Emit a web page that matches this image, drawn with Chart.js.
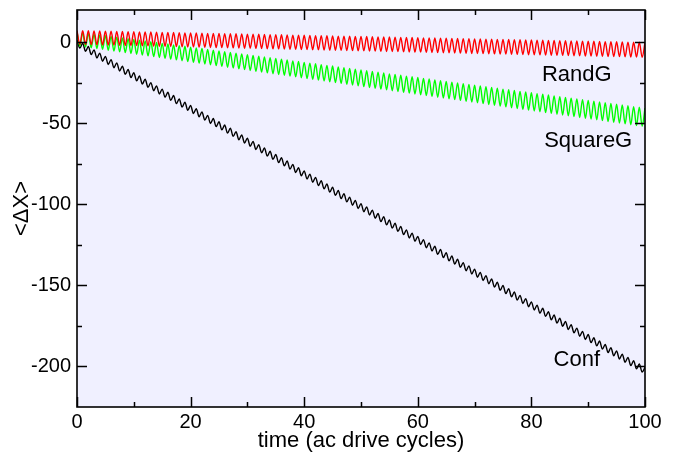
<!DOCTYPE html>
<html>
<head>
<meta charset="utf-8">
<script src="https://cdn.jsdelivr.net/npm/chart.js@4/dist/chart.umd.min.js"></script>
<style>
html,body{margin:0;padding:0;background:#fff;}
#wrap{width:675px;height:454px;}
</style>
</head>
<body>
<div id="wrap"><canvas id="c" width="675" height="454"></canvas></div>
<script>
// ---- Data (peaks at whole cycles, troughs at half cycles) ----
const seriesNames = ["RandG", "SquareG", "Conf"];
const xTickValues = [0, 20, 40, 60, 80, 100];
const xMinorTicks = [10, 30, 50, 70, 90];
const yTickValues = [0, -50, -100, -150, -200];
const yMinorTicks = [-25, -75, -125, -175];

const randPeaks = [7.3,7.2,7.2,7.1,7.0,6.9,6.9,6.8,6.7,6.6,6.6,6.5,6.4,6.4,6.3,6.2,6.1,6.1,6.0,5.9,5.8,5.8,5.7,5.6,5.5,5.5,5.4,5.3,5.3,5.2,5.1,5.0,5.0,4.9,4.8,4.7,4.7,4.6,4.5,4.5,4.4,4.3,4.2,4.2,4.1,4.0,3.9,3.9,3.8,3.7,3.7,3.6,3.5,3.4,3.4,3.3,3.2,3.1,3.1,3.0,2.9,2.8,2.8,2.7,2.6,2.6,2.5,2.4,2.3,2.3,2.2,2.1,2.0,2.0,1.9,1.8,1.8,1.7,1.6,1.5,1.5,1.4,1.3,1.2,1.2,1.1,1.0,0.9,0.9,0.8,0.7,0.7,0.6,0.5,0.4,0.4,0.3,0.2,0.1,0.1,0.0];
const randTroughs = [-1.2,-1.3,-1.4,-1.5,-1.6,-1.6,-1.7,-1.8,-1.9,-2.0,-2.0,-2.1,-2.2,-2.3,-2.4,-2.4,-2.5,-2.6,-2.7,-2.8,-2.8,-2.9,-3.0,-3.1,-3.2,-3.2,-3.3,-3.4,-3.5,-3.6,-3.6,-3.7,-3.8,-3.9,-4.0,-4.0,-4.1,-4.2,-4.3,-4.4,-4.4,-4.5,-4.6,-4.7,-4.8,-4.8,-4.9,-5.0,-5.1,-5.2,-5.2,-5.3,-5.4,-5.5,-5.6,-5.6,-5.7,-5.8,-5.9,-6.0,-6.0,-6.1,-6.2,-6.3,-6.4,-6.4,-6.5,-6.6,-6.7,-6.8,-6.8,-6.9,-7.0,-7.1,-7.2,-7.2,-7.3,-7.4,-7.5,-7.6,-7.6,-7.7,-7.8,-7.9,-8.0,-8.0,-8.1,-8.2,-8.3,-8.4,-8.4,-8.5,-8.6,-8.7,-8.8,-8.8,-8.9,-9.0,-9.1,-9.2];

const squarePeaks = [6.5,6.0,5.6,5.1,4.6,4.2,3.7,3.2,2.7,2.3,1.8,1.3,0.9,0.4,-0.1,-0.6,-1.0,-1.5,-2.0,-2.4,-2.9,-3.4,-3.8,-4.3,-4.8,-5.3,-5.7,-6.2,-6.7,-7.1,-7.6,-8.1,-8.5,-9.0,-9.5,-9.9,-10.4,-10.9,-11.4,-11.8,-12.3,-12.8,-13.2,-13.7,-14.2,-14.6,-15.1,-15.6,-16.1,-16.5,-17.0,-17.5,-17.9,-18.4,-18.9,-19.4,-19.8,-20.3,-20.8,-21.2,-21.7,-22.2,-22.6,-23.1,-23.6,-24.1,-24.5,-25.0,-25.5,-25.9,-26.4,-26.9,-27.3,-27.8,-28.3,-28.8,-29.2,-29.7,-30.2,-30.6,-31.1,-31.6,-32.0,-32.5,-33.0,-33.5,-33.9,-34.4,-34.9,-35.3,-35.8,-36.3,-36.7,-37.2,-37.7,-38.2,-38.6,-39.1,-39.6,-40.0,-40.5];
const squareTroughs = [-2.3,-2.8,-3.3,-3.8,-4.3,-4.8,-5.3,-5.8,-6.3,-6.8,-7.3,-7.8,-8.3,-8.8,-9.3,-9.8,-10.3,-10.8,-11.3,-11.8,-12.3,-12.8,-13.3,-13.8,-14.3,-14.8,-15.3,-15.8,-16.3,-16.8,-17.3,-17.8,-18.3,-18.8,-19.3,-19.8,-20.3,-20.8,-21.3,-21.8,-22.3,-22.8,-23.3,-23.8,-24.3,-24.8,-25.3,-25.8,-26.3,-26.8,-27.3,-27.8,-28.3,-28.8,-29.3,-29.8,-30.3,-30.8,-31.3,-31.8,-32.3,-32.8,-33.3,-33.8,-34.3,-34.8,-35.3,-35.8,-36.3,-36.8,-37.3,-37.8,-38.3,-38.8,-39.3,-39.8,-40.3,-40.8,-41.3,-41.8,-42.3,-42.8,-43.3,-43.8,-44.3,-44.8,-45.3,-45.8,-46.3,-46.8,-47.3,-47.8,-48.3,-48.8,-49.3,-49.8,-50.3,-50.8,-51.3,-51.8];

const confPeaks = [1.5,-0.5,-2.5,-4.6,-6.6,-8.6,-10.6,-12.6,-14.7,-16.7,-18.7,-20.7,-22.7,-24.8,-26.8,-28.8,-30.8,-32.8,-34.9,-36.9,-38.9,-40.9,-42.9,-45.0,-47.0,-49.0,-51.0,-53.0,-55.1,-57.1,-59.1,-61.1,-63.1,-65.2,-67.2,-69.2,-71.2,-73.2,-75.3,-77.3,-79.3,-81.3,-83.3,-85.4,-87.4,-89.4,-91.4,-93.4,-95.5,-97.5,-99.5,-101.5,-103.5,-105.6,-107.6,-109.6,-111.6,-113.6,-115.7,-117.7,-119.7,-121.7,-123.7,-125.8,-127.8,-129.8,-131.8,-133.8,-135.9,-137.9,-139.9,-141.9,-143.9,-146.0,-148.0,-150.0,-152.0,-154.0,-156.1,-158.1,-160.1,-162.1,-164.1,-166.2,-168.2,-170.2,-172.2,-174.2,-176.3,-178.3,-180.3,-182.3,-184.3,-186.4,-188.4,-190.4,-192.4,-194.4,-196.5,-198.5,-200.5];
const confTroughs = [-3.5,-5.5,-7.5,-9.6,-11.6,-13.6,-15.6,-17.6,-19.7,-21.7,-23.7,-25.7,-27.7,-29.8,-31.8,-33.8,-35.8,-37.8,-39.9,-41.9,-43.9,-45.9,-47.9,-50.0,-52.0,-54.0,-56.0,-58.0,-60.1,-62.1,-64.1,-66.1,-68.1,-70.2,-72.2,-74.2,-76.2,-78.2,-80.3,-82.3,-84.3,-86.3,-88.3,-90.4,-92.4,-94.4,-96.4,-98.4,-100.5,-102.5,-104.5,-106.5,-108.5,-110.6,-112.6,-114.6,-116.6,-118.6,-120.7,-122.7,-124.7,-126.7,-128.7,-130.8,-132.8,-134.8,-136.8,-138.8,-140.9,-142.9,-144.9,-146.9,-148.9,-151.0,-153.0,-155.0,-157.0,-159.0,-161.1,-163.1,-165.1,-167.1,-169.1,-171.2,-173.2,-175.2,-177.2,-179.2,-181.3,-183.3,-185.3,-187.3,-189.3,-191.4,-193.4,-195.4,-197.4,-199.4,-201.5,-203.5];

// label anchor points in data units
const labelX = [88, 90, 88];
const labelY = [-20, -61, -196];

// ---- build point tables: peak at whole cycle i, trough at i + 0.5 ----
function buildPoints(peaks, troughs) {
  const pts = [];
  for (let i = 0; i < peaks.length; i++) {
    pts.push({x: i, y: peaks[i]});
    if (i < troughs.length) pts.push({x: i + 0.5, y: troughs[i]});
  }
  return pts;
}

const FONT = "'Liberation Sans', Arial, Helvetica, sans-serif";

const frameTicks = {
  id: 'frameTicks',
  beforeDraw(chart) {
    const {ctx, chartArea: a} = chart;
    ctx.save();
    ctx.fillStyle = '#f0f0ff';
    ctx.fillRect(a.left, a.top, a.right - a.left, a.bottom - a.top);
    ctx.restore();
  },
  afterDatasetsDraw(chart) {
    const {ctx, chartArea: a, scales} = chart;
    const xs = scales.x, ys = scales.y;
    ctx.save();
    ctx.strokeStyle = '#000';
    ctx.lineWidth = 1.5;
    ctx.beginPath();
    const tick = (vals, len) => {
      vals.forEach(v => {
        const px = Math.round(xs.getPixelForValue(v)) + 0.5;
        ctx.moveTo(px, a.bottom); ctx.lineTo(px, a.bottom - len);
        ctx.moveTo(px, a.top); ctx.lineTo(px, a.top + len);
      });
    };
    const tickY = (vals, len) => {
      vals.forEach(v => {
        const py = Math.round(ys.getPixelForValue(v)) + 0.5;
        ctx.moveTo(a.left, py); ctx.lineTo(a.left + len, py);
        ctx.moveTo(a.right, py); ctx.lineTo(a.right - len, py);
      });
    };
    tick(xTickValues, 10); tick(xMinorTicks, 5);
    tickY(yTickValues, 10); tickY(yMinorTicks, 5);
    ctx.stroke();
    ctx.lineWidth = 1.6;
    ctx.strokeRect(a.left, a.top, a.right - a.left, a.bottom - a.top);
    // series labels
    ctx.fillStyle = '#000';
    ctx.font = '22px ' + FONT;
    ctx.textAlign = 'center';
    ctx.textBaseline = 'middle';
    seriesNames.forEach((n, i) => {
      ctx.fillText(n, xs.getPixelForValue(labelX[i]), ys.getPixelForValue(labelY[i]));
    });
    ctx.restore();
  }
};

new Chart(document.getElementById('c'), {
  type: 'line',
  data: {
    datasets: [
      {label: seriesNames[0], data: buildPoints(randPeaks, randTroughs), borderColor: '#ff0000'},
      {label: seriesNames[1], data: buildPoints(squarePeaks, squareTroughs), borderColor: '#00ff00'},
      {label: seriesNames[2], data: buildPoints(confPeaks, confTroughs), borderColor: '#000000'}
    ].map(d => Object.assign(d, {borderWidth: 1.4, pointRadius: 0, cubicInterpolationMode: 'monotone', fill: false}))
  },
  options: {
    responsive: false,
    animation: false,
    events: [],
    layout: {padding: {left: 0, right: 30, top: 10, bottom: 0}},
    plugins: {legend: {display: false}, tooltip: {enabled: false}},
    scales: {
      x: {
        type: 'linear', min: 0, max: 100,
        grid: {display: false, drawTicks: false},
        border: {display: false},
        afterBuildTicks: s => { s.ticks = xTickValues.map(v => ({value: v})); },
        afterFit: s => { s.height = 47; s.paddingLeft = 0; s.paddingRight = 0; },
        ticks: {color: '#000', padding: 3, maxRotation: 0, font: {family: FONT, size: 20}},
        title: {display: true, text: 'time (ac drive cycles)', color: '#000', padding: {top: 0, bottom: 0}, font: {family: FONT, size: 22}}
      },
      y: {
        type: 'linear', min: -225, max: 20,
        grid: {display: false, drawTicks: false},
        border: {display: false},
        afterBuildTicks: s => { s.ticks = yTickValues.map(v => ({value: v})); },
        afterFit: s => { s.width = 77; s.paddingTop = 0; s.paddingBottom = 0; },
        ticks: {color: '#000', padding: 6, font: {family: FONT, size: 20}},
        title: {display: true, text: '<ΔX>', color: '#000', padding: {top: 9, bottom: 0}, font: {family: FONT, size: 22}}
      }
    }
  },
  plugins: [frameTicks]
});
</script>
</body>
</html>
